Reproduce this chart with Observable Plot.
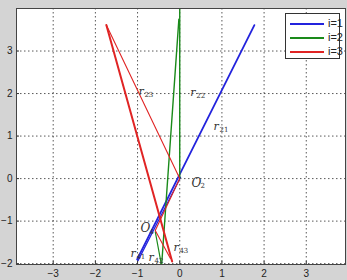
<!DOCTYPE html>
<html><head><meta charset="utf-8">
<script src="https://cdn.jsdelivr.net/npm/d3@7"></script>
<script src="https://cdn.jsdelivr.net/npm/@observablehq/plot@0.6"></script>
<style>
body{margin:0;background:#d4d4d4;}
#wrap{position:relative;width:347px;height:280px;}
#legend{position:absolute;left:285px;top:13px;width:55px;height:46px;background:#fff;border:1px solid #333;box-sizing:border-box;font:11px "Liberation Sans",Arial,sans-serif;color:#222;}
.row{position:absolute;left:4px;height:12px;}
.row span.ln{position:absolute;left:0;top:5px;width:34px;height:2px;}
.row span.tx{position:absolute;left:38px;top:-1px;}
</style></head><body>
<div id="wrap"></div>
<script>
const xTicks = [-3, -2, -1, 0, 1, 2, 3];
const yTicks = [-2, -1, 0, 1, 2, 3];
const seriesNames = ["i=1", "i=2", "i=3"];
const seriesColors = ["#2323dd", "#1a8a1a", "#e02424"];

const blueA_x = [-1.01, 1.77], blueA_y = [-1.90, 3.61];
const blueB_x = [-0.99, 0.02], blueB_y = [-1.93, 0.03];
const greenA_x = [0.0, 0.0], greenA_y = [0.0, 4.05];
const greenB_x = [-0.43, -0.02], greenB_y = [-2.05, 3.75];
const greenC_x = [-0.58, -0.43], greenC_y = [-1.25, -2.05];
const redA_x = [-1.74, -0.18], redA_y = [3.61, -1.95];
const redB_x = [-1.74, 0.0, -0.58, -0.22], redB_y = [3.61, 0.0, -1.22, -1.88];

const segments = [
  {s: 0, w: 1.8, xs: blueA_x, ys: blueA_y},
  {s: 0, w: 1.3, xs: blueB_x, ys: blueB_y},
  {s: 1, w: 1.4, xs: greenA_x, ys: greenA_y},
  {s: 1, w: 1.4, xs: greenB_x, ys: greenB_y},
  {s: 1, w: 1.2, xs: greenC_x, ys: greenC_y},
  {s: 2, w: 2.0, xs: redA_x, ys: redA_y},
  {s: 2, w: 1.1, xs: redB_x, ys: redB_y}
];

const labelMain = ["r", "r", "r", "O", "O", "r", "r", "r"];
const labelSub = ["23", "22", "21", "2", "4", "41", "42", "43"];
const labelX = [-0.98, 0.25, 0.80, 0.28, -0.93, -1.17, -0.74, -0.15];
const labelY = [2.05, 2.02, 1.22, -0.10, -1.17, -1.76, -1.86, -1.62];

const labels = labelMain.map((m, i) => ({m, sub: labelSub[i], x: labelX[i], y: labelY[i]}));
const rLabels = labels.filter(d => d.m === "r");
const oLabels = labels.filter(d => d.m === "O");

const marks = [
  Plot.frame({fill: "white", stroke: "none"}),
  Plot.gridX(xTicks, {stroke: "#222", strokeOpacity: 0.75, strokeDasharray: "1.5,2.5", strokeWidth: 1}),
  Plot.gridY(yTicks, {stroke: "#222", strokeOpacity: 0.75, strokeDasharray: "1.5,2.5", strokeWidth: 1}),
];
for (const seg of segments) {
  const pts = seg.xs.map((x, i) => ({x, y: seg.ys[i]}));
  marks.push(Plot.line(pts, {x: "x", y: "y", stroke: seriesColors[seg.s], strokeWidth: seg.w, clip: true}));
}
const serif = "DejaVu Serif, Liberation Serif, serif";
marks.push(
  Plot.text(rLabels, {x: "x", y: "y", text: "m", fontFamily: serif, fontStyle: "italic", fontSize: 11, fill: "#333", textAnchor: "start"}),
  Plot.text(rLabels, {x: "x", y: "y", text: "sub", fontFamily: serif, fontSize: 7, fill: "#333", textAnchor: "start", dx: 6, dy: 3}),
  Plot.text(oLabels, {x: "x", y: "y", text: "m", fontFamily: serif, fontStyle: "italic", fontSize: 12, fill: "#333", textAnchor: "start"}),
  Plot.text(oLabels, {x: "x", y: "y", text: "sub", fontFamily: serif, fontSize: 7, fill: "#333", textAnchor: "start", dx: 9, dy: 3}),
  Plot.axisX(xTicks, {tickSize: 0, tickPadding: 5, fontSize: 10, fill: "#222", label: null}),
  Plot.axisX(xTicks, {tickSize: -3, text: null, stroke: "#333", label: null}),
  Plot.axisY(yTicks, {tickSize: 0, tickPadding: 4, fontSize: 10, fill: "#222", label: null}),
  Plot.axisY(yTicks, {tickSize: -3, text: null, stroke: "#333", label: null}),
  Plot.frame({stroke: "#444", strokeWidth: 1})
);

const chart = Plot.plot({
  width: 347, height: 280,
  marginLeft: 16, marginRight: 2, marginTop: 8, marginBottom: 16,
  x: {domain: [-3.87, 3.93], label: null},
  y: {domain: [-2.02, 4.0], label: null},
  style: {background: "#d4d4d4", fontFamily: "Liberation Sans, Arial, sans-serif"},
  marks
});
const wrap = document.getElementById("wrap");
wrap.appendChild(chart);

const legend = document.createElement("div");
legend.id = "legend";
seriesNames.forEach((n, i) => {
  const r = document.createElement("div");
  r.className = "row";
  r.style.top = (4 + i * 14) + "px";
  r.innerHTML = `<span class="ln" style="background:${seriesColors[i]}"></span><span class="tx">${n}</span>`;
  legend.appendChild(r);
});
wrap.appendChild(legend);
</script>
</body></html>
